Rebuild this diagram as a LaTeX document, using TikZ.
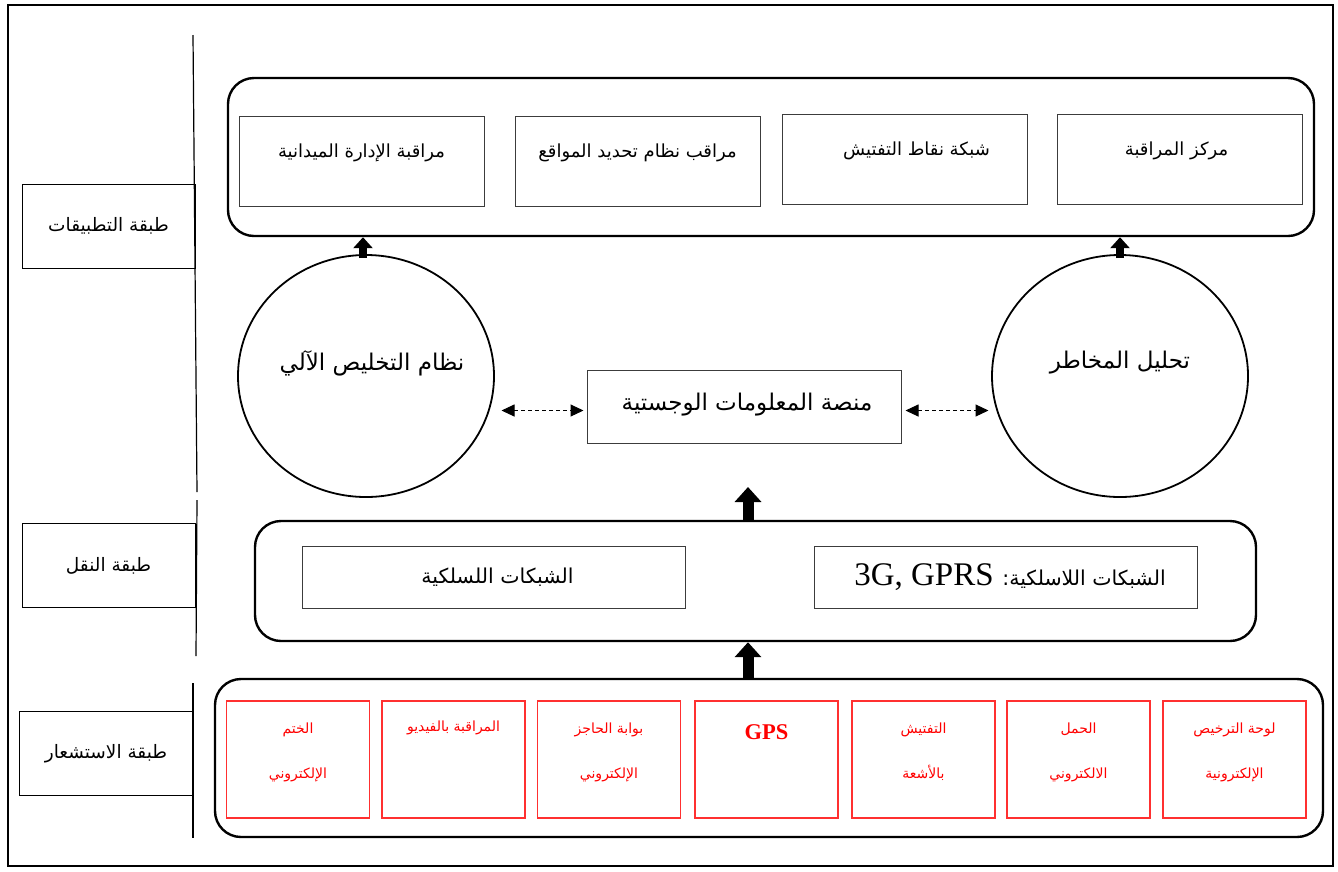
\documentclass[tikz,border=0pt]{standalone}
\usepackage{fontspec}
\usetikzlibrary{arrows.meta,shapes.geometric}
\TeXXeTstate=1
\newfontfamily\arabicfont[Script=Arabic]{DejaVu Sans}
\newfontfamily\latinfont{Liberation Serif}
\newcommand\rtltext[1]{\beginR #1\endR}
\definecolor{boxgray}{HTML}{3C3C3C}
\definecolor{sensred}{HTML}{FF3030}

\tikzset{
  layerbox/.style={draw, line width=1pt, inner sep=0pt, minimum width=173pt, minimum height=84pt,
    font=\arabicfont\fontsize{18.5}{22}\selectfont},
  groupbox/.style={draw, line width=2.4pt, rounded corners=26pt, inner sep=0pt},
  appbox/.style={draw=boxgray, line width=1pt, inner sep=0pt, minimum width=245pt, minimum height=90pt},
  apptext/.style={inner sep=0pt, font=\arabicfont\fontsize{18}{21}\selectfont},
  netbox/.style={draw=boxgray, line width=1pt, inner sep=0pt, minimum width=383pt, minimum height=62pt},
  nettext/.style={inner sep=0pt, font=\arabicfont\fontsize{20.5}{24}\selectfont},
  sensbox/.style={draw=sensred, line width=1.5pt, inner sep=0pt, minimum width=143pt, minimum height=117pt},
  senstext/.style={inner sep=0pt, text=red, align=center, font=\arabicfont\fontsize{14}{45}\selectfont},
  roundunit/.style={draw, ellipse, line width=1.8pt, inner sep=0pt, minimum width=256pt, minimum height=242pt},
  roundtext/.style={inner sep=0pt, font=\arabicfont\fontsize{23}{26}\selectfont},
  bigarrow/.style={line width=11pt, -{Triangle[width=26pt,length=15pt]}},
  smallarrow/.style={line width=8pt, -{Triangle[width=19pt,length=11pt]}},
  dasharrow/.style={line width=1pt, dash pattern=on 4pt off 3pt,
    {Triangle[width=12pt,length=13pt]}-{Triangle[width=12pt,length=13pt]}},
  divider/.style={line width=1.2pt}
}

\begin{document}
\begin{tikzpicture}[x=1pt,y=-1pt]
\useasboundingbox (0,0) rectangle (1338,871);

% outer frame
\draw[line width=1.6pt] (8,5) rectangle (1333,866);

% layer labels and their dividers
\node[layerbox] (lapp) at (108.5,226) {\rtltext{طبقة التطبيقات}};
\node[layerbox] (lnet) at (108.5,565.5) {\rtltext{طبقة النقل}};
\node[layerbox] (lsen) at (106,753.5) {\rtltext{طبقة الاستشعار}};
\draw[divider] (193,35) -- (197,492);
\draw[divider] (197,500) -- (196,656);
\draw[divider] (193,683) -- (193,838);

% application layer
\node[groupbox, minimum width=1086pt, minimum height=158pt] (app) at (771,157) {};
\node[appbox] (a1) at (361.5,161) {};
\node[apptext] (a1t) at ([yshift=8pt]a1.center) {\rtltext{مراقبة الإدارة الميدانية}};
\node[appbox] (a2) at (637.5,161) {};
\node[apptext] (a2t) at ([yshift=8pt]a2.center) {\rtltext{مراقب نظام تحديد المواقع}};
\node[appbox] (a3) at (904.5,159) {};
\node[apptext] (a3t) at ([yshift=8pt,xshift=12pt]a3.center) {\rtltext{شبكة نقاط التفتيش}};
\node[appbox] (a4) at (1179.5,159) {};
\node[apptext] (a4t) at ([yshift=8pt,xshift=-3pt]a4.center) {\rtltext{مركز المراقبة}};

% clearance and risk units
\node[roundunit] (clear) at (366,376) {};
\node[roundtext] (cleart) at ([yshift=13pt,xshift=6pt]clear.center) {\rtltext{نظام التخليص الآلي}};
\node[roundunit] (risk) at (1120,376) {};
\node[roundtext] (riskt) at ([yshift=13pt]risk.center) {\rtltext{تحليل المخاطر}};

% logistics platform
\node[draw=boxgray, line width=1pt, inner sep=0pt, minimum width=314pt, minimum height=73pt] (plat) at (744,406.5) {};
\node[inner sep=0pt, font=\arabicfont\fontsize{23}{26}\selectfont] (platt) at ([xshift=3pt,yshift=2pt]plat.center) {\rtltext{منصة المعلومات الوجستية}};

\draw[dasharrow] ([xshift=-85pt,yshift=-4pt]plat.west) -- ([xshift=-3pt,yshift=-4pt]plat.west);
\draw[dasharrow] ([xshift=4pt,yshift=-4pt]plat.east) -- ([xshift=87pt,yshift=-4pt]plat.east);

\draw[smallarrow] ([xshift=-3pt,yshift=-4pt]clear.north) -- ([xshift=-3pt]clear.north |- app.south);
\draw[smallarrow] ([yshift=-4pt]risk.north) -- (risk.north |- app.south);

% transport layer
\node[groupbox, minimum width=1001pt, minimum height=120pt] (net) at (755.5,581) {};
\node[netbox] (n1) at (493.5,577) {};
\node[nettext] (n1t) at ([xshift=4pt]n1.center) {\rtltext{الشبكات اللسلكية}};
\node[netbox] (n2) at (1006,577) {};
\node[nettext] (n2t) at ([xshift=4pt]n2.center) {\rtltext{الشبكات اللاسلكية: \beginL{\latinfont\fontsize{33}{36}\selectfont 3G, GPRS}\endL}};

\coordinate (platin) at (748,487);
\draw[bigarrow] (net.north -| platin) -- (platin);

% sensing layer
\node[groupbox, minimum width=1108pt, minimum height=158pt] (sens) at (769,758) {};
\draw[bigarrow] (sens.north -| platin) -- (net.south -| platin);

\node[sensbox] (s1) at (298,759.5) {};
\node[senstext] (s1t) at (298,752) {\rtltext{الختم}\\\rtltext{الإلكتروني}};
\node[sensbox] (s2) at (453.5,759.5) {};
\node[senstext] (s2t) at (453.5,728) {\rtltext{المراقبة بالفيديو}};
\node[sensbox] (s3) at (609,759.5) {};
\node[senstext] (s3t) at (609,752) {\rtltext{بوابة الحاجز}\\\rtltext{الإلكتروني}};
\node[sensbox] (s4) at (766.5,759.5) {};
\node[inner sep=0pt, text=red, font=\latinfont\bfseries\fontsize{22.5}{26}\selectfont] (s4t) at (766.5,732) {GPS};
\node[sensbox] (s5) at (923.5,759.5) {};
\node[senstext] (s5t) at (923.5,752) {\rtltext{التفتيش}\\\rtltext{بالأشعة}};
\node[sensbox] (s6) at (1078.5,759.5) {};
\node[senstext] (s6t) at (1078.5,752) {\rtltext{الحمل}\\\rtltext{الالكتروني}};
\node[sensbox] (s7) at (1234.5,759.5) {};
\node[senstext] (s7t) at (1234.5,752) {\rtltext{لوحة الترخيص}\\\rtltext{الإلكترونية}};
\end{tikzpicture}
\end{document}
